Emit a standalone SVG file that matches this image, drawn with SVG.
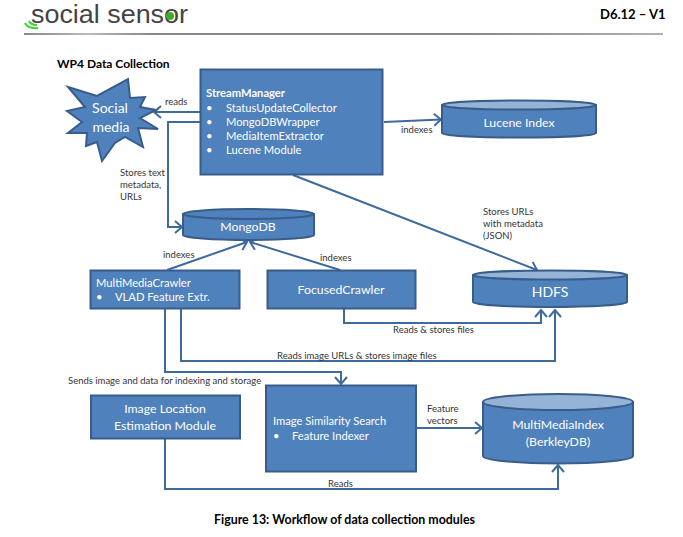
<svg xmlns="http://www.w3.org/2000/svg" width="683" height="537" viewBox="0 0 683 537">
<style>
text{font-family:"Lato","Open Sans","Liberation Sans",sans-serif}
.n{fill:#4f81bd;stroke:#385d8a;stroke-width:2}
.t{fill:#95b3d7;stroke:#385d8a;stroke-width:2}
.w{fill:#fff;font-size:12.300px}
.s{fill:#fff;font-size:11.200px}
.b{fill:#fff;font-size:14px}
.l{fill:#333;font-size:9.500px}
.h{fill:#000;font-weight:700;font-size:12.400px}
.c{fill:none;stroke:#3e6a9e;stroke-width:2;marker-end:url(#a)}
</style>
<defs>
<marker id="a" markerUnits="userSpaceOnUse" markerWidth="12" markerHeight="14" refX="9" refY="7" orient="auto"><path d="M2 1L9 7L2 13" fill="none" stroke="#3e6a9e" stroke-width="2"/></marker>
<linearGradient id="g"><stop offset="0" stop-color="#111"/><stop offset=".1" stop-color="#777"/><stop offset=".2" stop-color="#111"/><stop offset=".7" stop-color="#111"/><stop offset="1" stop-color="#666"/></linearGradient>
</defs>
<rect width="683" height="537" fill="#fff"/>
<g id="header">
<text x="31" y="23" fill="#444" textLength="157" lengthAdjust="spacingAndGlyphs" style="font-family:'Liberation Sans',sans-serif;font-size:25px">social sensor</text>
<circle cx="170" cy="16" r="4" fill="#3fae2a"/>
<path d="M25 23Q28 29 38 28M29 21Q31 25 37 25" fill="none" stroke="#35d42f" stroke-width="2"/>
<text x="600" y="19" class="h" style="font-size:13px">D6.12 – V1</text>
<rect x="24" y="33.500" width="639" height="1" fill="url(#g)"/>
<text x="57" y="68" class="h" style="font-size:12px">WP4 Data  Collection</text>
<text x="214" y="524" class="h">Figure 13: Workflow of data collection modules</text>
</g>
<g id="connectors">
<path class="c" d="M200 112H154"/>
<path class="c" d="M200 122H168V227H182"/>
<path class="c" d="M384 122L441 119.500"/>
<path class="c" d="M293 175L537 270"/>
<path class="c" d="M167 270L247 242"/>
<path class="c" d="M340 270L250 242"/>
<path class="c" d="M344 309V323H541V310"/>
<path class="c" d="M181 309V361H555V310"/>
<path class="c" d="M165 309V372H341V384"/>
<path class="c" d="M165 439V489H558V465"/>
<path class="c" d="M416 428H482"/>
</g>
<g id="social-media">
<path class="n" d="M68 87L97 96L128 79L130 98L145 97L140 107L156 110L140 118L158 129L138 128L143 147L125 137L115 143L102 161L97 142L86 146L87 133L68 133L82 122L67 111L85 107Z"/>
<text class="b" text-anchor="middle" x="110" y="113">Social</text>
<text class="b" text-anchor="middle" x="111" y="132">media</text>
</g>
<g id="stream-manager">
<rect class="n" x="200.500" y="69.500" width="182" height="105"/>
<text class="s" x="206" y="97" font-weight="700">StreamManager</text>
<text class="s" x="206" y="112">•</text><text class="s" x="226" y="112">StatusUpdateCollector</text>
<text class="s" x="206" y="126">•</text><text class="s" x="226" y="126">MongoDBWrapper</text>
<text class="s" x="206" y="140">•</text><text class="s" x="226" y="140">MediaItemExtractor</text>
<text class="s" x="206" y="154">•</text><text class="s" x="226" y="154">Lucene Module</text>
</g>
<g id="lucene-index">
<path class="n" d="M442 105V133A77 4.500 0 0 0 596 133V105Z"/>
<ellipse class="t" cx="519" cy="105" rx="77" ry="4.500"/>
<text class="w" text-anchor="middle" x="519" y="127">Lucene Index</text>
</g>
<g id="mongodb">
<path class="n" d="M183 214V235A65.500 5 0 0 0 314 235V214Z"/>
<ellipse class="n" cx="248.500" cy="214" rx="65.500" ry="5"/>
<text class="w" text-anchor="middle" x="248" y="231">MongoDB</text>
</g>
<g id="multimedia-crawler">
<rect class="n" x="90.500" y="270.500" width="149" height="38"/>
<text class="s" x="96" y="287">MultiMediaCrawler</text>
<text class="s" x="96" y="301">•</text><text class="s" x="115" y="301">VLAD Feature Extr.</text>
</g>
<g id="focused-crawler">
<rect class="n" x="267.500" y="270.500" width="148" height="38"/>
<text class="w" text-anchor="middle" x="341" y="294">FocusedCrawler</text>
</g>
<g id="hdfs">
<path class="n" d="M473 275V302A77 5 0 0 0 627 302V275Z"/>
<ellipse class="t" cx="550" cy="275" rx="77" ry="4.500"/>
<text class="b" text-anchor="middle" x="550" y="297">HDFS</text>
</g>
<g id="image-location">
<rect class="n" x="91" y="395.500" width="149" height="43"/>
<text class="w" text-anchor="middle" x="165" y="413">Image  Location</text>
<text class="w" text-anchor="middle" x="165" y="430">Estimation  Module</text>
</g>
<g id="image-similarity">
<rect class="n" x="266" y="385.500" width="150" height="86"/>
<text class="s" x="273" y="425">Image Similarity Search</text>
<text class="s" x="273" y="440">•</text><text class="s" x="292" y="440">Feature Indexer</text>
</g>
<g id="multimedia-index">
<path class="n" d="M483 402V456A75 7.500 0 0 0 633 456V402Z"/>
<ellipse class="t" cx="558" cy="402" rx="75" ry="8"/>
<text class="w" text-anchor="middle" x="558" y="429">MultiMediaIndex</text>
<text class="w" text-anchor="middle" x="558" y="446">(BerkleyDB)</text>
</g>
<g id="labels">
<text class="l" x="165" y="105">reads</text>
<text class="l" x="120" y="176">Stores text</text>
<text class="l" x="120" y="188">metadata,</text>
<text class="l" x="120" y="200">URLs</text>
<text class="l" x="401" y="133">indexes</text>
<text class="l" x="483" y="215">Stores URLs</text>
<text class="l" x="483" y="227">with metadata</text>
<text class="l" x="483" y="239">(JSON)</text>
<text class="l" x="163" y="258">indexes</text>
<text class="l" x="320" y="261">indexes</text>
<text class="l" x="393" y="333">Reads &amp; stores files</text>
<text class="l" x="277" y="359">Reads image URLs &amp; stores image files</text>
<text class="l" x="68" y="384">Sends image and data for indexing and storage</text>
<text class="l" x="427" y="412">Feature</text>
<text class="l" x="427" y="424">vectors</text>
<text class="l" x="328" y="487">Reads</text>
</g>
</svg>
